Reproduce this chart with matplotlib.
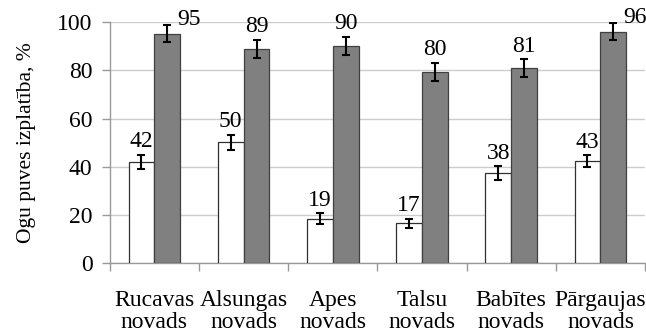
import matplotlib.pyplot as plt
import numpy as np

plt.rcParams['font.family'] = ['Liberation Serif', 'DejaVu Serif']

categories = ["Rucavas\nnovads", "Alsungas\nnovads", "Apes\nnovads",
              "Talsu\nnovads", "Babītes\nnovads", "Pārgaujas\nnovads"]
white_vals = [42.0, 50.2, 18.5, 16.6, 37.3, 42.3]
white_err = [2.9, 3.1, 2.2, 1.9, 2.9, 2.5]
white_labels = ["42", "50", "19", "17", "38", "43"]
grey_vals = [95.3, 89.0, 90.2, 79.5, 81.0, 96.0]
grey_err = [3.4, 3.7, 3.6, 3.7, 3.6, 3.5]
grey_labels = ["95", "89", "90", "80", "81", "96"]

fig = plt.figure(figsize=(6.46, 3.32), dpi=100, facecolor='white')
ax = fig.add_axes([0.170, 0.207, 0.8285, 0.726])

x = np.arange(len(categories))
w = 0.29
err_kw = dict(ecolor='black', elinewidth=1.5, capsize=3, capthick=1.5)
ax.bar(x - w / 2, white_vals, w, yerr=white_err, color='white',
       edgecolor='#303030', linewidth=0.9, error_kw=err_kw, zorder=3)
ax.bar(x + w / 2, grey_vals, w, yerr=grey_err, color='#808080',
       edgecolor='#404040', linewidth=0.9, error_kw=err_kw, zorder=3)

fs = 17
for xi, v, e, lab in zip(x, white_vals, white_err, white_labels):
    ax.annotate(lab, (xi - w / 2, v + e), xytext=(0, 2), textcoords='offset points',
                ha='center', va='bottom', fontsize=fs)
for xi, v, e, lab in zip(x, grey_vals, grey_err, grey_labels):
    if v + e > 97:
        ax.annotate(lab, (xi + w / 2, v + e), xytext=(7, 4), textcoords='offset points',
                    ha='left', va='center', fontsize=fs)
    else:
        ax.annotate(lab, (xi + w / 2, v + e), xytext=(0, 2), textcoords='offset points',
                    ha='center', va='bottom', fontsize=fs)

ax.set_xlim(-0.5, len(categories) - 0.5)
ax.set_ylim(0, 100)
ax.set_yticks(range(0, 101, 20))
ax.set_xticks(x)
ax.set_xticklabels(categories, fontsize=fs, linespacing=1.1)
ax.set_xticks(np.arange(-0.5, len(categories), 1), minor=True)
ax.tick_params(axis='x', which='major', length=0, pad=19)
ax.tick_params(axis='x', which='minor', length=6, color='#999999', width=1)
ax.tick_params(axis='y', length=5.5, color='#999999', width=1, labelsize=fs, pad=7)

ax.yaxis.grid(True, color='#cccccc', linewidth=1, zorder=0)
ax.set_axisbelow(True)
for s in ['top', 'right']:
    ax.spines[s].set_visible(False)
for s in ['left', 'bottom']:
    ax.spines[s].set_color('#999999')
    ax.spines[s].set_linewidth(1)

ax.set_ylabel("Ogu puves izplatība, %", fontsize=15.5, labelpad=15)

plt.savefig("out.png", dpi=100, facecolor='white')
